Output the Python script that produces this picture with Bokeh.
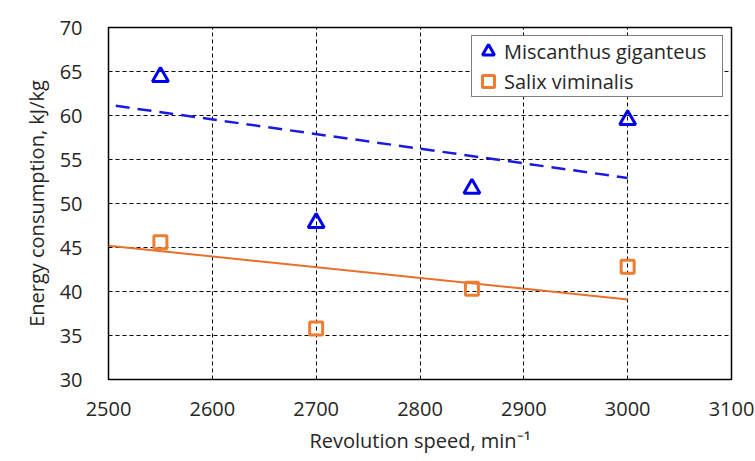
from bokeh.plotting import figure
from bokeh.models import Range1d, FixedTicker, Legend, LegendItem
from bokeh.embed import file_html
from bokeh.resources import INLINE

# Data
speeds = [2550, 2700, 2850, 3000]
miscanthus = [64.4, 47.8, 51.7, 59.5]
salix = [45.6, 35.8, 40.3, 42.8]

# Trend lines as drawn in the reference
misc_trend_x = [2507, 3000]
misc_trend_y = [61.1, 52.9]
salix_trend_x = [2500, 3000]
salix_trend_y = [45.2, 39.1]

x_ticks = [2500, 2600, 2700, 2800, 2900, 3000, 3100]
y_ticks = [30, 35, 40, 45, 50, 55, 60, 65, 70]

FONT = "Open Sans"
TXT = "#262626"
BLUE = "#0000F0"
ORANGE = "#ED7D31"

p = figure(width=755, height=461, output_backend="svg", toolbar_location=None,
           x_range=Range1d(2500, 3100), y_range=Range1d(30, 70))
p.min_border_left = 108
p.min_border_right = 24
p.min_border_top = 27
p.min_border_bottom = 82
p.background_fill_color = "white"
p.border_fill_color = "white"
p.outline_line_color = "black"
p.outline_line_width = 1.5

for ax in (p.xaxis[0], p.yaxis[0]):
    ax.axis_line_color = None
    ax.major_tick_line_color = None
    ax.minor_tick_line_color = None
    ax.major_label_text_font = FONT
    ax.major_label_text_font_size = "20px"
    ax.major_label_text_color = TXT
    ax.axis_label_text_font = FONT
    ax.axis_label_text_font_size = "20px"
    ax.axis_label_text_font_style = "normal"
    ax.axis_label_text_color = TXT

p.xaxis.ticker = FixedTicker(ticks=x_ticks)
p.yaxis.ticker = FixedTicker(ticks=y_ticks)
p.xaxis.major_label_standoff = 16
p.yaxis.major_label_standoff = 20
p.xaxis.axis_label = "Revolution speed, min\u207b\u00b9"
p.yaxis.axis_label = "Energy consumption, kJ/kg"
p.xaxis.axis_label_standoff = 8
p.yaxis.axis_label_standoff = 7

for g in (p.xgrid[0], p.ygrid[0]):
    g.grid_line_color = "black"
    g.grid_line_dash = "4 3"
    g.grid_line_width = 1

p.line(misc_trend_x, misc_trend_y, line_color="#1A1AE0", line_width=2.5, line_dash="14 8")
p.line(salix_trend_x, salix_trend_y, line_color="#E8702A", line_width=2)

r1 = p.scatter(speeds, miscanthus, marker="triangle", size=16, fill_color=None,
               line_color=BLUE, line_width=3)
r2 = p.scatter(speeds, salix, marker="square", size=13, fill_color=None,
               line_color=ORANGE, line_width=3)

legend = Legend(items=[LegendItem(label="Miscanthus giganteus", renderers=[r1]),
                       LegendItem(label="Salix viminalis", renderers=[r2])],
                location="top_right")
legend.margin = 8
legend.padding = 0
legend.spacing = 0
legend.glyph_width = 32
legend.glyph_height = 30
legend.label_standoff = 0
legend.label_width = 218
legend.label_text_font = FONT
legend.label_text_font_size = "20px"
legend.label_text_color = TXT
legend.border_line_color = "black"
legend.border_line_width = 1.5
legend.background_fill_alpha = 1
p.add_layout(legend)

open("out.html", "w").write(file_html(p, INLINE))
